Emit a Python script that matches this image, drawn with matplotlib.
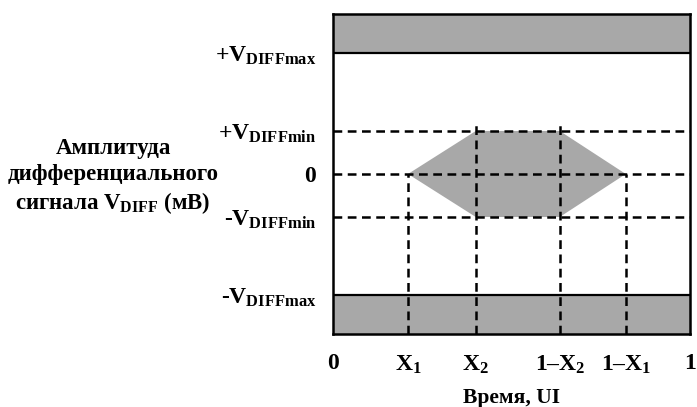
import matplotlib
matplotlib.use("Agg")
import matplotlib.pyplot as plt

plt.rcParams['font.family'] = 'Liberation Serif'
plt.rcParams['font.weight'] = 'bold'
plt.rcParams['axes.labelweight'] = 'bold'
plt.rcParams['mathtext.fontset'] = 'custom'
plt.rcParams['mathtext.rm'] = 'Liberation Serif:bold'
plt.rcParams['mathtext.it'] = 'Liberation Serif:bold'
plt.rcParams['mathtext.bf'] = 'Liberation Serif:bold'

# уровни (условные единицы)
v_max = 1.0
v_min = 0.355
y_lim = 1.32

# точки по времени, UI
x_pos = [0, 0.21, 0.40, 0.635, 0.82, 1]
x_lab = ['0', '$X_1$', '$X_2$', '$1\u2013X_2$', '$1\u2013X_1$', '1']

y_pos = [v_max, v_min, 0, -v_min, -v_max]
y_lab = ['$+V_{\\mathrm{DIFFmax}}$', '$+V_{\\mathrm{DIFFmin}}$', '0',
         '-$V_{\\mathrm{DIFFmin}}$', '-$V_{\\mathrm{DIFFmax}}$']

# глазковая маска
eye_x = [0.21, 0.40, 0.635, 0.82, 0.635, 0.40]
eye_y = [0, v_min, v_min, 0, -v_min, -v_min]

gray = '#a8a8a8'
dash = (0, (3.5, 2.2))

fig = plt.figure(figsize=(6.97, 4.07), dpi=100)
ax = fig.add_axes([0.4778, 0.1794, 0.5122, 0.7862])
ax.set_xlim(0, 1)
ax.set_ylim(-y_lim, y_lim)

ax.axhspan(v_max, y_lim, color=gray, lw=0, zorder=1)
ax.axhspan(-y_lim, -v_max, color=gray, lw=0, zorder=1)
ax.axhline(v_max, color='black', lw=1.6, zorder=3)
ax.axhline(-v_max, color='black', lw=1.6, zorder=3)

ax.fill(eye_x, eye_y, color=gray, lw=0, zorder=1)

for yv in [v_min, 0, -v_min]:
    ax.axhline(yv, color='black', lw=1.8, ls=dash, zorder=4)

ax.vlines([eye_x[0], eye_x[3]], -y_lim, 0, colors='black', lw=1.8, linestyles=dash, zorder=4)
ax.vlines([eye_x[1], eye_x[2]], -y_lim, 0.425, colors='black', lw=1.8, linestyles=dash, zorder=4)

for s in ax.spines.values():
    s.set_linewidth(1.8)
    s.set_zorder(5)

ax.set_xticks(x_pos)
ax.set_xticklabels(x_lab, fontsize=17)
ax.set_yticks(y_pos)
ax.set_yticklabels(y_lab, fontsize=17)
ax.tick_params(axis='both', length=0)
ax.tick_params(axis='x', pad=14)
ax.tick_params(axis='y', pad=12)

ax.set_xlabel('Время, UI', fontsize=15.5, labelpad=9)

fig.text(113 / 697, 1 - 177 / 407,
         'Амплитуда\nдифференциального\nсигнала $V_{\\mathrm{DIFF}}$ (мВ)',
         ha='center', va='center', fontsize=16.5, linespacing=1.3)

fig.savefig('out.png', dpi=100)
